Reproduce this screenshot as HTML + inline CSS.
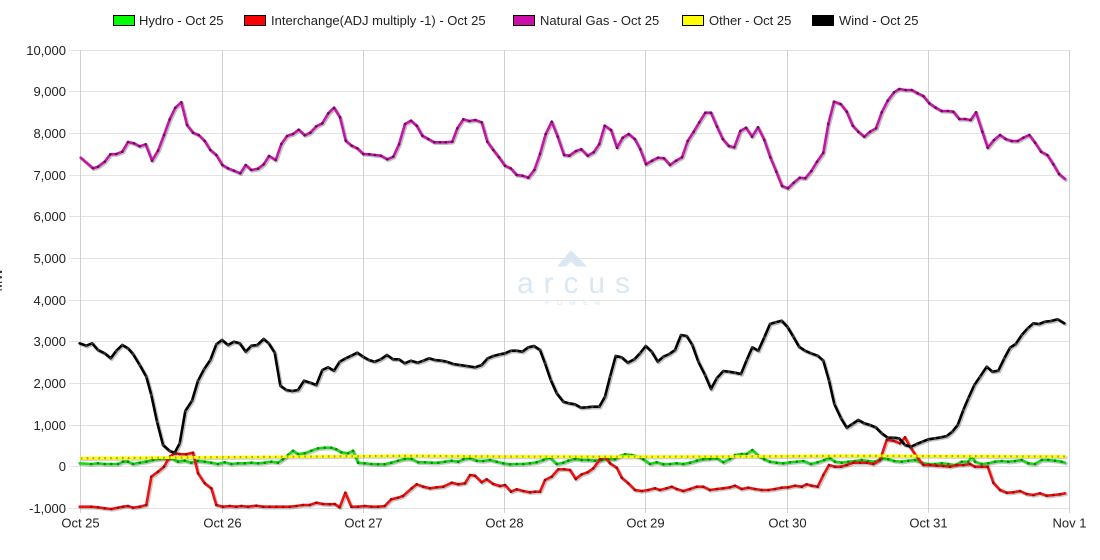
<!DOCTYPE html>
<html>
<head>
<meta charset="utf-8">
<style>
html,body{margin:0;padding:0;background:#fff;}
svg{display:block;}
text{font-family:"Liberation Sans",Arial,sans-serif;}
</style>
</head>
<body>
<svg width="1100" height="560" viewBox="0 0 1100 560" xmlns="http://www.w3.org/2000/svg">
<defs>
<marker id="mG" markerUnits="userSpaceOnUse" markerWidth="4" markerHeight="4" refX="2" refY="2"><circle cx="2" cy="2" r="1.3" fill="#0a8a0a"/></marker>
<marker id="mR" markerUnits="userSpaceOnUse" markerWidth="4" markerHeight="4" refX="2" refY="2"><circle cx="2" cy="2" r="1.3" fill="#9a0a0a"/></marker>
<marker id="mN" markerUnits="userSpaceOnUse" markerWidth="4" markerHeight="4" refX="2" refY="2"><circle cx="2" cy="2" r="1.3" fill="#6a0a58"/></marker>
<marker id="mW" markerUnits="userSpaceOnUse" markerWidth="4" markerHeight="4" refX="2" refY="2"><circle cx="2" cy="2" r="1.3" fill="#333"/></marker>
</defs>
<rect width="1100" height="560" fill="#fff"/>

<!-- watermark -->
<g fill="#dae8f3">
<polygon points="557,266.5 571,250 587,266.5 576,266.5 571,261.5 566,266.5"/>
<text x="517" y="293" font-size="30" textLength="113" lengthAdjust="spacing">arcus</text>
<text x="545" y="305" font-size="7" textLength="55" lengthAdjust="spacing">POWER</text>
</g>

<!-- horizontal grid -->
<g stroke="#e3e3e3" stroke-width="1">
<line x1="69" y1="50.5" x2="1069.5" y2="50.5"/>
<line x1="69" y1="91.5" x2="1069.5" y2="91.5"/>
<line x1="69" y1="133.5" x2="1069.5" y2="133.5"/>
<line x1="69" y1="175.5" x2="1069.5" y2="175.5"/>
<line x1="69" y1="216.5" x2="1069.5" y2="216.5"/>
<line x1="69" y1="258.5" x2="1069.5" y2="258.5"/>
<line x1="69" y1="300.5" x2="1069.5" y2="300.5"/>
<line x1="69" y1="341.5" x2="1069.5" y2="341.5"/>
<line x1="69" y1="383.5" x2="1069.5" y2="383.5"/>
<line x1="69" y1="425.5" x2="1069.5" y2="425.5"/>
<line x1="69" y1="466.5" x2="1069.5" y2="466.5"/>
<line x1="69" y1="508.5" x2="1069.5" y2="508.5"/>
</g>
<!-- vertical grid -->
<g stroke="#d0d0d0" stroke-width="1">
<line x1="80.5" y1="50" x2="80.5" y2="513"/>
<line x1="222.5" y1="50" x2="222.5" y2="513"/>
<line x1="363.5" y1="50" x2="363.5" y2="513"/>
<line x1="504.5" y1="50" x2="504.5" y2="513"/>
<line x1="645.5" y1="50" x2="645.5" y2="513"/>
<line x1="787.5" y1="50" x2="787.5" y2="513"/>
<line x1="928.5" y1="50" x2="928.5" y2="513"/>
<line x1="1069.5" y1="50" x2="1069.5" y2="513"/>
</g>

<!-- y labels -->
<g font-size="13" fill="#222" text-anchor="end">
<text x="66" y="55">10,000</text>
<text x="66" y="96">9,000</text>
<text x="66" y="138">8,000</text>
<text x="66" y="180">7,000</text>
<text x="66" y="221">6,000</text>
<text x="66" y="263">5,000</text>
<text x="66" y="305">4,000</text>
<text x="66" y="346">3,000</text>
<text x="66" y="388">2,000</text>
<text x="66" y="430">1,000</text>
<text x="66" y="471">0</text>
<text x="66" y="513">-1,000</text>
</g>
<text x="2" y="280" font-size="13" fill="#222" text-anchor="middle" transform="rotate(-90 2 280)">MW</text>

<!-- x labels -->
<g font-size="13" fill="#222" text-anchor="middle">
<text x="80.5" y="527.5">Oct 25</text>
<text x="222.5" y="527.5">Oct 26</text>
<text x="363.5" y="527.5">Oct 27</text>
<text x="504.5" y="527.5">Oct 28</text>
<text x="645.5" y="527.5">Oct 29</text>
<text x="787.5" y="527.5">Oct 30</text>
<text x="928.5" y="527.5">Oct 31</text>
<text x="1069.5" y="527.5">Nov 1</text>
</g>

<!-- legend -->
<g font-size="13" fill="#222">
<rect x="113.5" y="15.5" width="21" height="10" fill="#00ff00" stroke="#000"/>
<text x="139" y="25">Hydro - Oct 25</text>
<rect x="244.5" y="15.5" width="21" height="10" fill="#ff0000" stroke="#000"/>
<text x="271" y="25">Interchange(ADJ multiply -1) - Oct 25</text>
<rect x="513.5" y="15.5" width="21" height="10" fill="#cc0fa6" stroke="#000"/>
<text x="540" y="25">Natural Gas - Oct 25</text>
<rect x="682.5" y="15.5" width="21" height="10" fill="#ffff00" stroke="#000"/>
<text x="709" y="25">Other - Oct 25</text>
<rect x="812.5" y="15.5" width="21" height="10" fill="#000" stroke="#000"/>
<text x="839" y="25">Wind - Oct 25</text>
</g>

<!-- Hydro -->
<g fill="none" stroke-linejoin="round" stroke-linecap="round">
<polyline id="hy" transform="translate(1,1)" stroke="rgba(0,0,0,0.22)" stroke-width="3.5" points="79.7,463.3 91.3,464 98,463.3 104.7,464 111.3,464 118,464 123,461.7 128,461.7 133,464 139.7,462.7 146.3,461.7 153,460 159.7,459 166.3,459 171.3,458.3 178,461.7 184.7,460.7 191.3,462.7 198,461 204.7,461.7 211.3,462.7 218,464 224.7,462.3 231.3,464 238,463.3 244.7,463.3 251.3,462.7 258,463.3 264.7,462.7 271.3,461.7 278,462.7 283,459.3 288,455 293,450.7 298,454 304.7,453.3 311.3,450.7 318,448.3 324.7,447.7 331.3,447.7 336.3,449.3 341.3,452.3 348,453.3 353,450.7 358,462.7 364.7,463.3 371.3,464 378,464.3 384.7,464.3 391.3,462.7 398,460.7 404.7,459 411.7,459 418.3,462.3 425,462.3 431.7,462.7 438.3,462.7 445,461.7 451.7,460.7 458.3,461.7 463.3,459.3 470,458.3 476.7,460.7 483.3,461 490,460 496.7,461.7 503.3,463.3 510,464.3 516.7,464 523.3,464 530,463.3 536.7,462.3 543.3,460 550,457.7 556.7,464 563.3,462.7 568.3,460.7 575,459 581.7,460 588.3,460 595,460.7 601.7,460 608.3,459.3 615,459.3 620,456 625,454.3 631.7,455 638.3,456.7 643.3,459.3 650,464 656.7,462.3 663.3,464.3 670,464 676.7,463.3 683.3,464 690,462.7 696.7,460.7 703.3,459.3 710,459 716.7,458.3 723.3,462.3 730,459 735,455 741.7,454 746.7,454 752.3,450 758.3,455.7 764.3,459.3 770,461.7 776.7,462.7 783.3,463.3 790,462.3 796.7,461.7 803.3,461 811,464 817.7,462.3 824.3,460 830,458.3 835,461.7 841.7,462.7 848.3,461.7 855,461 861.7,460 868.3,461 875,461.7 881.7,458.3 888.3,459.3 894.3,461 901.7,461.7 908.3,460.7 915,460 921.7,462.7 928.3,464 935,464 941.7,463.3 948.3,464 955,465 961.7,461.7 968.3,461.7 971.7,456.7 975,461.7 981.7,464 988.3,463.3 995,461.7 1001.7,461 1008.3,461.7 1015,461 1021.7,460 1028.3,463.3 1035,464 1041.7,460 1048.3,460 1055,460.7 1061.7,461.7 1065,462.7"/>
<polyline stroke="#14dc14" stroke-width="2.6" marker-mid="url(#mG)" points="79.7,463.3 91.3,464 98,463.3 104.7,464 111.3,464 118,464 123,461.7 128,461.7 133,464 139.7,462.7 146.3,461.7 153,460 159.7,459 166.3,459 171.3,458.3 178,461.7 184.7,460.7 191.3,462.7 198,461 204.7,461.7 211.3,462.7 218,464 224.7,462.3 231.3,464 238,463.3 244.7,463.3 251.3,462.7 258,463.3 264.7,462.7 271.3,461.7 278,462.7 283,459.3 288,455 293,450.7 298,454 304.7,453.3 311.3,450.7 318,448.3 324.7,447.7 331.3,447.7 336.3,449.3 341.3,452.3 348,453.3 353,450.7 358,462.7 364.7,463.3 371.3,464 378,464.3 384.7,464.3 391.3,462.7 398,460.7 404.7,459 411.7,459 418.3,462.3 425,462.3 431.7,462.7 438.3,462.7 445,461.7 451.7,460.7 458.3,461.7 463.3,459.3 470,458.3 476.7,460.7 483.3,461 490,460 496.7,461.7 503.3,463.3 510,464.3 516.7,464 523.3,464 530,463.3 536.7,462.3 543.3,460 550,457.7 556.7,464 563.3,462.7 568.3,460.7 575,459 581.7,460 588.3,460 595,460.7 601.7,460 608.3,459.3 615,459.3 620,456 625,454.3 631.7,455 638.3,456.7 643.3,459.3 650,464 656.7,462.3 663.3,464.3 670,464 676.7,463.3 683.3,464 690,462.7 696.7,460.7 703.3,459.3 710,459 716.7,458.3 723.3,462.3 730,459 735,455 741.7,454 746.7,454 752.3,450 758.3,455.7 764.3,459.3 770,461.7 776.7,462.7 783.3,463.3 790,462.3 796.7,461.7 803.3,461 811,464 817.7,462.3 824.3,460 830,458.3 835,461.7 841.7,462.7 848.3,461.7 855,461 861.7,460 868.3,461 875,461.7 881.7,458.3 888.3,459.3 894.3,461 901.7,461.7 908.3,460.7 915,460 921.7,462.7 928.3,464 935,464 941.7,463.3 948.3,464 955,465 961.7,461.7 968.3,461.7 971.7,456.7 975,461.7 981.7,464 988.3,463.3 995,461.7 1001.7,461 1008.3,461.7 1015,461 1021.7,460 1028.3,463.3 1035,464 1041.7,460 1048.3,460 1055,460.7 1061.7,461.7 1065,462.7"/>

<!-- Interchange -->
<polyline transform="translate(1,1)" stroke="rgba(0,0,0,0.22)" stroke-width="3.5" points="79.7,506.7 91.3,506.7 98,507.3 104.7,508.3 111.3,509 118,507.7 123,506.7 128,506 133,507.7 139.7,506.7 146.3,505 151.3,476.7 158,471.7 164,466.7 169.7,456.7 174.7,453.3 179.7,454 186.3,454.3 193,452.7 198,473.3 204.7,483.3 211.3,488.3 216.3,505 223,506.7 229.7,506 236.3,506.7 241.3,506 248,506.7 256.3,505.7 263,506.7 269.7,506.7 276.3,506.7 283,506.7 289.7,506.7 296.3,506 303,505 309.7,505 316.3,502.7 323,504 329.7,504.3 334.7,504 339.7,507.3 345.3,492.7 351.3,506.7 358,506.7 364.7,506 371.3,506.7 378,506.7 384.7,506 391.3,499.3 398,497.7 403,496 411.7,488.3 416.7,484.3 423.3,486.7 430,488.3 436.7,487.3 443.3,486.7 451.7,482.7 458.3,484.3 465,483.3 470,475 475,475.7 481.7,482.3 486.7,479.3 493.3,484 500,486 505,485 511,491.7 516.7,489.3 523.3,491 530,492.3 535,491.7 540,491.7 545,480 551.7,476.7 558.3,469.3 564.3,469.3 570,470 575.7,479 581.7,474.3 587.7,472.3 593.3,468.3 600,459.3 605,456.7 610,463.3 616.7,467.7 621.7,477.7 628.3,483.3 635,490 641.7,491 648.3,490 655,488.3 660,490 666.7,488.3 671.7,486.7 676.7,489 683.3,491 690,489 696.7,486.7 703.3,486.7 710,490 716.7,489 723.3,488.3 730,487.3 735,485.7 741.7,489 748.3,487.7 755,489 761.7,490 768.3,490 775,489 781.7,487.7 788.3,487.3 795,485.7 801.7,486.7 806.7,484.3 811.7,485.7 817.7,486.7 823.3,475 829,465 835,466.7 841,466.7 846.7,465 853.3,462.7 860,462.7 866.7,462.7 873.3,464 880,460 886.7,440 893.3,440.7 900,443.3 905,437.3 910,446.7 916.7,456.7 923.3,465 930,465 936.7,465.7 943.3,466 950,466.7 956.7,465 963.3,465 970,464 975,466.7 981.7,466.7 987.7,466.7 993.3,482.7 1000,490 1006.7,492.7 1013.3,492.3 1020,491 1026.7,494 1033.3,495 1040,493.3 1046.7,495.7 1053.3,495 1060,494.3 1065,493.3"/>
<polyline stroke="#ee1111" stroke-width="2.6" marker-mid="url(#mR)" points="79.7,506.7 91.3,506.7 98,507.3 104.7,508.3 111.3,509 118,507.7 123,506.7 128,506 133,507.7 139.7,506.7 146.3,505 151.3,476.7 158,471.7 164,466.7 169.7,456.7 174.7,453.3 179.7,454 186.3,454.3 193,452.7 198,473.3 204.7,483.3 211.3,488.3 216.3,505 223,506.7 229.7,506 236.3,506.7 241.3,506 248,506.7 256.3,505.7 263,506.7 269.7,506.7 276.3,506.7 283,506.7 289.7,506.7 296.3,506 303,505 309.7,505 316.3,502.7 323,504 329.7,504.3 334.7,504 339.7,507.3 345.3,492.7 351.3,506.7 358,506.7 364.7,506 371.3,506.7 378,506.7 384.7,506 391.3,499.3 398,497.7 403,496 411.7,488.3 416.7,484.3 423.3,486.7 430,488.3 436.7,487.3 443.3,486.7 451.7,482.7 458.3,484.3 465,483.3 470,475 475,475.7 481.7,482.3 486.7,479.3 493.3,484 500,486 505,485 511,491.7 516.7,489.3 523.3,491 530,492.3 535,491.7 540,491.7 545,480 551.7,476.7 558.3,469.3 564.3,469.3 570,470 575.7,479 581.7,474.3 587.7,472.3 593.3,468.3 600,459.3 605,456.7 610,463.3 616.7,467.7 621.7,477.7 628.3,483.3 635,490 641.7,491 648.3,490 655,488.3 660,490 666.7,488.3 671.7,486.7 676.7,489 683.3,491 690,489 696.7,486.7 703.3,486.7 710,490 716.7,489 723.3,488.3 730,487.3 735,485.7 741.7,489 748.3,487.7 755,489 761.7,490 768.3,490 775,489 781.7,487.7 788.3,487.3 795,485.7 801.7,486.7 806.7,484.3 811.7,485.7 817.7,486.7 823.3,475 829,465 835,466.7 841,466.7 846.7,465 853.3,462.7 860,462.7 866.7,462.7 873.3,464 880,460 886.7,440 893.3,440.7 900,443.3 905,437.3 910,446.7 916.7,456.7 923.3,465 930,465 936.7,465.7 943.3,466 950,466.7 956.7,465 963.3,465 970,464 975,466.7 981.7,466.7 987.7,466.7 993.3,482.7 1000,490 1006.7,492.7 1013.3,492.3 1020,491 1026.7,494 1033.3,495 1040,493.3 1046.7,495.7 1053.3,495 1060,494.3 1065,493.3"/>

<!-- Natural Gas -->
<polyline transform="translate(1,1)" stroke="rgba(0,0,0,0.25)" stroke-width="3.5" points="80.7,157.7 93,168.3 98,166.7 104.7,161.7 110.3,154.3 116.3,154 122.3,151.7 128,142 134,143.3 139.7,146.3 145.7,144.3 152,160.7 158,150.7 164,135 169.7,119.3 175.3,107.7 181.3,102.3 187,125 193,132.7 198.7,135 204.7,141 210.3,150 216.3,155 222.3,165 228,168.3 234,170.7 240.3,173.3 245.7,165 251.3,170 258,168.7 263.7,164.3 269,156 275.7,160 281.3,144 287,136 293,134 298.7,129.7 304.7,135.3 310.3,132.7 316.3,126.3 322.3,123.3 328.3,113.3 334,107.7 340,117.3 345.7,140.7 351.7,145.7 357.3,148.3 363.3,154 369.3,154.3 375,155 381,155.7 387.3,159.3 393.3,156.7 399,144.3 405,124 411,120.7 416.7,125.7 422.3,135.7 428.3,139 434.3,142.3 440,142.3 445.7,142.3 452.3,141.7 457.3,128.3 463.3,119.3 469.3,121 475.3,120 481.7,122.3 487.3,141.7 493.3,150 499,157.3 505,165.7 510.7,168.3 516.7,175 522.7,175.7 528.3,177.7 534.3,170 540,154 545.7,134 551.7,121.7 557.7,136.7 564,155 569.3,155.7 576,151 581.3,149.3 587.7,155.7 593.7,152.3 599.3,144 604.7,125.7 611,130 617,147.7 622.7,137.7 628.7,134 634.7,139 640.3,149.3 646,164.3 652,160.7 658,157.7 664,158.3 670,165 676,160.7 682,157.3 687.7,141 693.7,131.7 699.3,122.3 705.3,112.7 711,112.7 717,126.7 722.7,139 728.7,146 734.3,147.3 740.3,131 746,127.7 752,136.7 758,127.3 764.3,140 770.3,157.3 776.3,171.7 782,186 788,188.3 793.7,182.7 799.7,177.7 805.3,178.3 811.3,171 817,161.7 823.3,152.7 828.3,124 834,101.7 840.7,104 846.7,111.7 852.7,125.7 858.3,131.7 864.3,136.7 870,131.7 876,128.3 881.7,112.3 887.7,100.7 894,92.3 899.3,89 905.7,90 911.7,90 917.7,93.3 923.3,96 929.3,103.3 935.7,107.7 941.7,111 947.7,111 953.3,111.7 959.3,119 965,119 970.7,120 976,112.3 982.3,131.7 987.7,147.7 994,140 1000,135 1005.7,139 1011.7,141 1017.7,141 1023.3,137.7 1029.3,135 1035,142.7 1041,151.7 1047.3,155 1053.3,164.3 1059,174 1065,179"/>
<polyline stroke="#c416a6" stroke-width="2.6" marker-mid="url(#mN)" points="80.7,157.7 93,168.3 98,166.7 104.7,161.7 110.3,154.3 116.3,154 122.3,151.7 128,142 134,143.3 139.7,146.3 145.7,144.3 152,160.7 158,150.7 164,135 169.7,119.3 175.3,107.7 181.3,102.3 187,125 193,132.7 198.7,135 204.7,141 210.3,150 216.3,155 222.3,165 228,168.3 234,170.7 240.3,173.3 245.7,165 251.3,170 258,168.7 263.7,164.3 269,156 275.7,160 281.3,144 287,136 293,134 298.7,129.7 304.7,135.3 310.3,132.7 316.3,126.3 322.3,123.3 328.3,113.3 334,107.7 340,117.3 345.7,140.7 351.7,145.7 357.3,148.3 363.3,154 369.3,154.3 375,155 381,155.7 387.3,159.3 393.3,156.7 399,144.3 405,124 411,120.7 416.7,125.7 422.3,135.7 428.3,139 434.3,142.3 440,142.3 445.7,142.3 452.3,141.7 457.3,128.3 463.3,119.3 469.3,121 475.3,120 481.7,122.3 487.3,141.7 493.3,150 499,157.3 505,165.7 510.7,168.3 516.7,175 522.7,175.7 528.3,177.7 534.3,170 540,154 545.7,134 551.7,121.7 557.7,136.7 564,155 569.3,155.7 576,151 581.3,149.3 587.7,155.7 593.7,152.3 599.3,144 604.7,125.7 611,130 617,147.7 622.7,137.7 628.7,134 634.7,139 640.3,149.3 646,164.3 652,160.7 658,157.7 664,158.3 670,165 676,160.7 682,157.3 687.7,141 693.7,131.7 699.3,122.3 705.3,112.7 711,112.7 717,126.7 722.7,139 728.7,146 734.3,147.3 740.3,131 746,127.7 752,136.7 758,127.3 764.3,140 770.3,157.3 776.3,171.7 782,186 788,188.3 793.7,182.7 799.7,177.7 805.3,178.3 811.3,171 817,161.7 823.3,152.7 828.3,124 834,101.7 840.7,104 846.7,111.7 852.7,125.7 858.3,131.7 864.3,136.7 870,131.7 876,128.3 881.7,112.3 887.7,100.7 894,92.3 899.3,89 905.7,90 911.7,90 917.7,93.3 923.3,96 929.3,103.3 935.7,107.7 941.7,111 947.7,111 953.3,111.7 959.3,119 965,119 970.7,120 976,112.3 982.3,131.7 987.7,147.7 994,140 1000,135 1005.7,139 1011.7,141 1017.7,141 1023.3,137.7 1029.3,135 1035,142.7 1041,151.7 1047.3,155 1053.3,164.3 1059,174 1065,179"/>

<!-- Other -->
<polyline transform="translate(1,1)" stroke="rgba(0,0,0,0.18)" stroke-width="3.5" points="80.8,458.3 250,457 408,455.8 500,456.5 640,456.7 735,456.5 850,455.8 1000,456.3 1065,456.5"/>
<polyline stroke="#ffff00" stroke-width="2.8" points="80.8,458.3 250,457 408,455.8 500,456.5 640,456.7 735,456.5 850,455.8 1000,456.3 1065,456.5"/>
<polyline stroke="#a8a800" stroke-width="2.2" stroke-linecap="butt" stroke-dasharray="1.6 4.283" points="80.8,458.3 250,457 408,455.8 500,456.5 640,456.7 735,456.5 850,455.8 1000,456.3 1065,456.5"/>

<!-- Wind -->
<polyline transform="translate(1,1)" stroke="rgba(0,0,0,0.25)" stroke-width="3.5" points="79.7,343.3 86.3,345.7 92,343.3 98,350 104.7,353.3 110.7,358.3 116.3,350.7 122.3,345 128,348.3 133,354 139.7,365 146.3,376.7 151.3,395 157,421.7 163,445 169.7,451 174.7,452.7 179.7,443.3 185.3,411 192,400.7 198,380.7 204,369.3 210.3,360 216.3,344.3 222,340 228,345 234,341.7 239.7,343.3 245.7,351.7 251.3,345.7 257.3,345 263.7,339 268.7,343.3 274.7,352.7 280.3,385.7 286.3,390 292.3,391 298,390 304,380.7 310.3,382.7 316.3,385 322.3,370 328,367.3 334,370.7 339.7,361.7 345.7,358.3 351.3,355.7 357.3,352.7 363,356.7 369,360 374.7,361.7 380.7,359.3 387,355 393,359.3 399,359.3 404.7,363.3 411,360.7 417.7,362.7 423.3,360.7 429,358.3 435,360 441.7,360.7 446.7,361.7 453.3,364 460,365 466.7,366 475,367.3 481.7,365 487.7,358.3 493.3,356 500,354.3 505,353.3 511,350.7 516.7,350.7 522.3,351.7 528.3,347.3 534,346 540,350 545,363.3 550.7,380 556.7,393.3 563.3,401.7 569,403.3 575,404.3 581,407.7 586.7,407.3 592.3,406.7 599.3,406.7 605,396.7 610,376.7 615.7,356 621.7,357.3 627.7,362.7 634.3,359.3 640,353.3 645.7,346 651.7,351.7 657.7,361.7 663.3,356.7 669.3,354 675,350 681,335 686.7,336 692.3,345 698.3,361.7 705,375 711,389 716.7,378.3 723.3,371 729,371.7 735,372.7 741,374 746.7,360 752.3,347.3 758.3,350.7 764.3,337.3 770,324 775.7,322.3 781.7,320.7 787.7,327.3 793.3,336.7 799,346.7 805,350.7 811,353.3 817.7,355.7 823.3,360.7 829,380.7 834.3,404 841,418.3 846.7,427.7 852.3,424 858.3,420 864.3,423.3 870,425 875.7,427.3 881.7,433.3 887.7,437.7 893.3,437.7 899,438.3 905,445 911,446.7 916.7,444 922.3,441.7 928.3,439.3 935,438.3 941,437.3 946.7,436 952.3,431.7 957.7,425 963.3,410 968.3,398.3 974.3,385 980,376.7 986.7,366.7 992.3,371.7 998.3,370.7 1004.3,358.3 1010,347.7 1015.7,344 1021.7,335 1027.7,328.3 1033.3,323.3 1039,324 1045,321.7 1051,321 1057.7,319.3 1064.3,323.3"/>
<polyline stroke="#000" stroke-width="2.6" marker-mid="url(#mW)" points="79.7,343.3 86.3,345.7 92,343.3 98,350 104.7,353.3 110.7,358.3 116.3,350.7 122.3,345 128,348.3 133,354 139.7,365 146.3,376.7 151.3,395 157,421.7 163,445 169.7,451 174.7,452.7 179.7,443.3 185.3,411 192,400.7 198,380.7 204,369.3 210.3,360 216.3,344.3 222,340 228,345 234,341.7 239.7,343.3 245.7,351.7 251.3,345.7 257.3,345 263.7,339 268.7,343.3 274.7,352.7 280.3,385.7 286.3,390 292.3,391 298,390 304,380.7 310.3,382.7 316.3,385 322.3,370 328,367.3 334,370.7 339.7,361.7 345.7,358.3 351.3,355.7 357.3,352.7 363,356.7 369,360 374.7,361.7 380.7,359.3 387,355 393,359.3 399,359.3 404.7,363.3 411,360.7 417.7,362.7 423.3,360.7 429,358.3 435,360 441.7,360.7 446.7,361.7 453.3,364 460,365 466.7,366 475,367.3 481.7,365 487.7,358.3 493.3,356 500,354.3 505,353.3 511,350.7 516.7,350.7 522.3,351.7 528.3,347.3 534,346 540,350 545,363.3 550.7,380 556.7,393.3 563.3,401.7 569,403.3 575,404.3 581,407.7 586.7,407.3 592.3,406.7 599.3,406.7 605,396.7 610,376.7 615.7,356 621.7,357.3 627.7,362.7 634.3,359.3 640,353.3 645.7,346 651.7,351.7 657.7,361.7 663.3,356.7 669.3,354 675,350 681,335 686.7,336 692.3,345 698.3,361.7 705,375 711,389 716.7,378.3 723.3,371 729,371.7 735,372.7 741,374 746.7,360 752.3,347.3 758.3,350.7 764.3,337.3 770,324 775.7,322.3 781.7,320.7 787.7,327.3 793.3,336.7 799,346.7 805,350.7 811,353.3 817.7,355.7 823.3,360.7 829,380.7 834.3,404 841,418.3 846.7,427.7 852.3,424 858.3,420 864.3,423.3 870,425 875.7,427.3 881.7,433.3 887.7,437.7 893.3,437.7 899,438.3 905,445 911,446.7 916.7,444 922.3,441.7 928.3,439.3 935,438.3 941,437.3 946.7,436 952.3,431.7 957.7,425 963.3,410 968.3,398.3 974.3,385 980,376.7 986.7,366.7 992.3,371.7 998.3,370.7 1004.3,358.3 1010,347.7 1015.7,344 1021.7,335 1027.7,328.3 1033.3,323.3 1039,324 1045,321.7 1051,321 1057.7,319.3 1064.3,323.3"/>
</g>
</svg>
</body>
</html>
